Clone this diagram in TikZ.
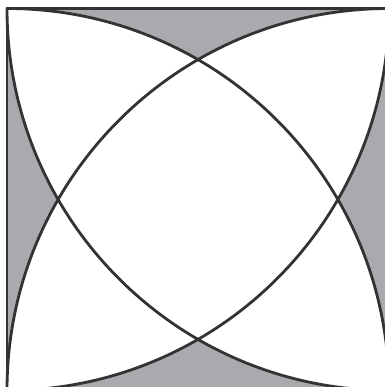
\documentclass[tikz,border=0pt]{standalone}
\usetikzlibrary{calc}
\definecolor{shade}{RGB}{169,170,174}
\definecolor{ink}{RGB}{51,51,51}
\tikzset{
  piece/.style={fill=shade,draw=none},
  bowline/.style={draw=ink,line width=0.8pt},
}
\begin{document}
\begin{tikzpicture}
\useasboundingbox (0,0) rectangle (3.84,3.87);
\def\side{3.82}

\coordinate (A) at (0.07,-0.035);
\coordinate (B) at ($(A)+(\side,0)$);
\coordinate (C) at ($(A)+(\side,\side)$);
\coordinate (D) at ($(A)+(0,\side)$);

% gray pieces along the sides
\fill[piece] (D) arc[start angle=90,end angle=60,radius=\side]
  arc[start angle=120,end angle=90,radius=\side] -- cycle;
\fill[piece] (C) arc[start angle=0,end angle=-30,radius=\side]
  arc[start angle=30,end angle=0,radius=\side] -- cycle;
\fill[piece] (B) arc[start angle=270,end angle=240,radius=\side]
  arc[start angle=300,end angle=270,radius=\side] -- cycle;
\fill[piece] (A) arc[start angle=180,end angle=150,radius=\side]
  arc[start angle=210,end angle=180,radius=\side] -- cycle;

% quarter circles
\draw[bowline] (B) arc[start angle=0,end angle=90,radius=\side];
\draw[bowline] (A) arc[start angle=180,end angle=90,radius=\side];
\draw[bowline] (B) arc[start angle=270,end angle=180,radius=\side];
\draw[bowline] (A) arc[start angle=270,end angle=360,radius=\side];

\draw[bowline] (A) rectangle (C);
\end{tikzpicture}
\end{document}
